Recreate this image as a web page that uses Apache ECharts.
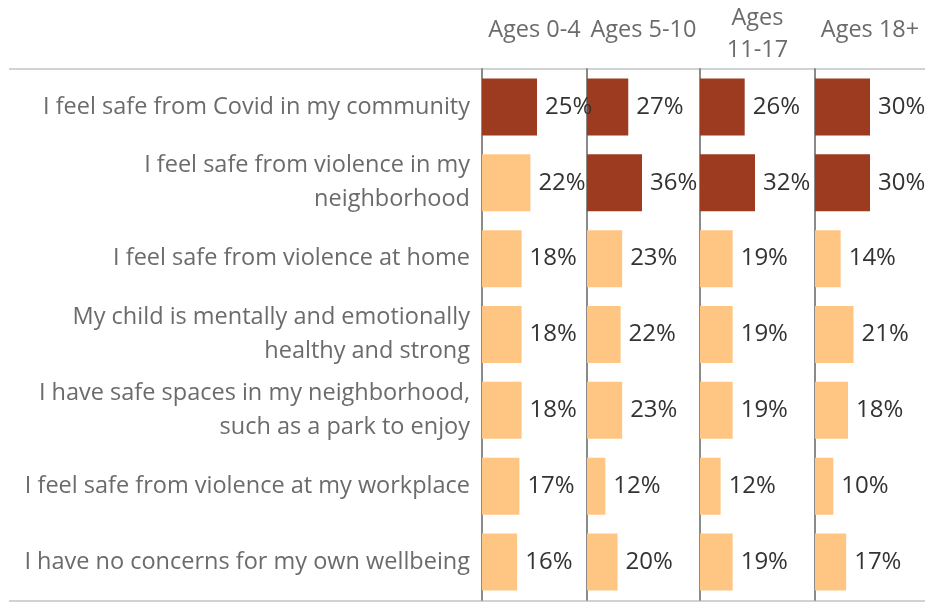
<!DOCTYPE html>
<html>
<head>
<meta charset="utf-8">
<style>
	html, body { margin: 0; padding: 0; background: #fff; }
	#chart { width: 925px; height: 602px; }
</style>
<script src="https://cdn.jsdelivr.net/npm/echarts@6/dist/echarts.min.js"></script>
</head>
<body>
<div id="chart"></div>
<script>
// rows (top to bottom)
var statements = [
	'I feel safe from Covid in my community',
	'I feel safe from violence in my\nneighborhood',
	'I feel safe from violence at home',
	'My child is mentally and emotionally\nhealthy and strong',
	'I have safe spaces in my neighborhood,\nsuch as a park to enjoy',
	'I feel safe from violence at my workplace',
	'I have no concerns for my own wellbeing'
];
var ageGroups = ['Ages 0-4', 'Ages 5-10', 'Ages\n11-17', 'Ages 18+'];

// percent values per age group, same order as statements
var ages0to4   = [25, 22, 18, 18, 18, 17, 16];
var ages5to10  = [27, 36, 23, 22, 23, 12, 20];
var ages11to17 = [26, 32, 19, 19, 19, 12, 19];
var ages18plus = [30, 30, 14, 21, 18, 10, 17];
var panelData = [ages0to4, ages5to10, ages11to17, ages18plus];

var highlightFrom = 25;   // values at or above this get the dark colour

var font = 'Open Sans';
var panelLeft = [482, 587, 700, 815, 925];
var plotTop = 69, plotBottom = 600;
var maxBarPx = 55;

var chart = echarts.init(document.getElementById('chart'));

var grids = [], xAxes = [], yAxes = [], series = [], graphics = [];

panelData.forEach(function (vals, i) {
	var w = panelLeft[i + 1] - panelLeft[i];
	var panelMax = Math.max.apply(null, vals) * w / maxBarPx;
	grids.push({ left: panelLeft[i], top: plotTop, width: w, height: plotBottom - plotTop });
	xAxes.push({
		gridIndex: i, type: 'value', min: 0, max: panelMax,
		show: false
	});
	yAxes.push({
		gridIndex: i, type: 'category', inverse: true,
		data: statements,
		axisLine: { show: true, lineStyle: { color: '#8a8a8a', width: 2 } },
		axisTick: { show: false },
		splitLine: { show: false },
		axisLabel: {
			show: i === 0,
			margin: 12,
			fontFamily: font, fontSize: 23.5, color: '#6b6b6b',
			lineHeight: 34, align: 'right'
		}
	});
	series.push({
		type: 'bar', xAxisIndex: i, yAxisIndex: i,
		barWidth: 57,
		data: vals.map(function (v) {
			return { value: v, itemStyle: { color: v >= highlightFrom ? '#9c3b20' : '#ffc583' } };
		}),
		label: {
			show: true, position: 'right', distance: 8,
			formatter: '{c}%',
			fontFamily: font, fontSize: 24, color: '#333'
		},
		silent: true
	});
	graphics.push({
		type: 'text',
		x: (panelLeft[i] + panelLeft[i + 1]) / 2,
		y: ageGroups[i].indexOf('\n') >= 0 ? 34 : 30,
		style: {
			text: ageGroups[i], font: '23.5px "' + font + '"',
			fill: '#6b6b6b', textAlign: 'center', textVerticalAlign: 'middle', lineHeight: 32
		}
	});
});

// header / footer rules
graphics.push({ type: 'line', shape: { x1: 9, y1: plotTop, x2: 925, y2: plotTop }, style: { stroke: '#d2d2d2', lineWidth: 2 } });
graphics.push({ type: 'line', shape: { x1: 9, y1: plotBottom + 1, x2: 925, y2: plotBottom + 1 }, style: { stroke: '#d2d2d2', lineWidth: 2 } });

chart.setOption({
	animation: false,
	grid: grids,
	xAxis: xAxes,
	yAxis: yAxes,
	series: series,
	graphic: graphics
});
</script>
</body>
</html>
